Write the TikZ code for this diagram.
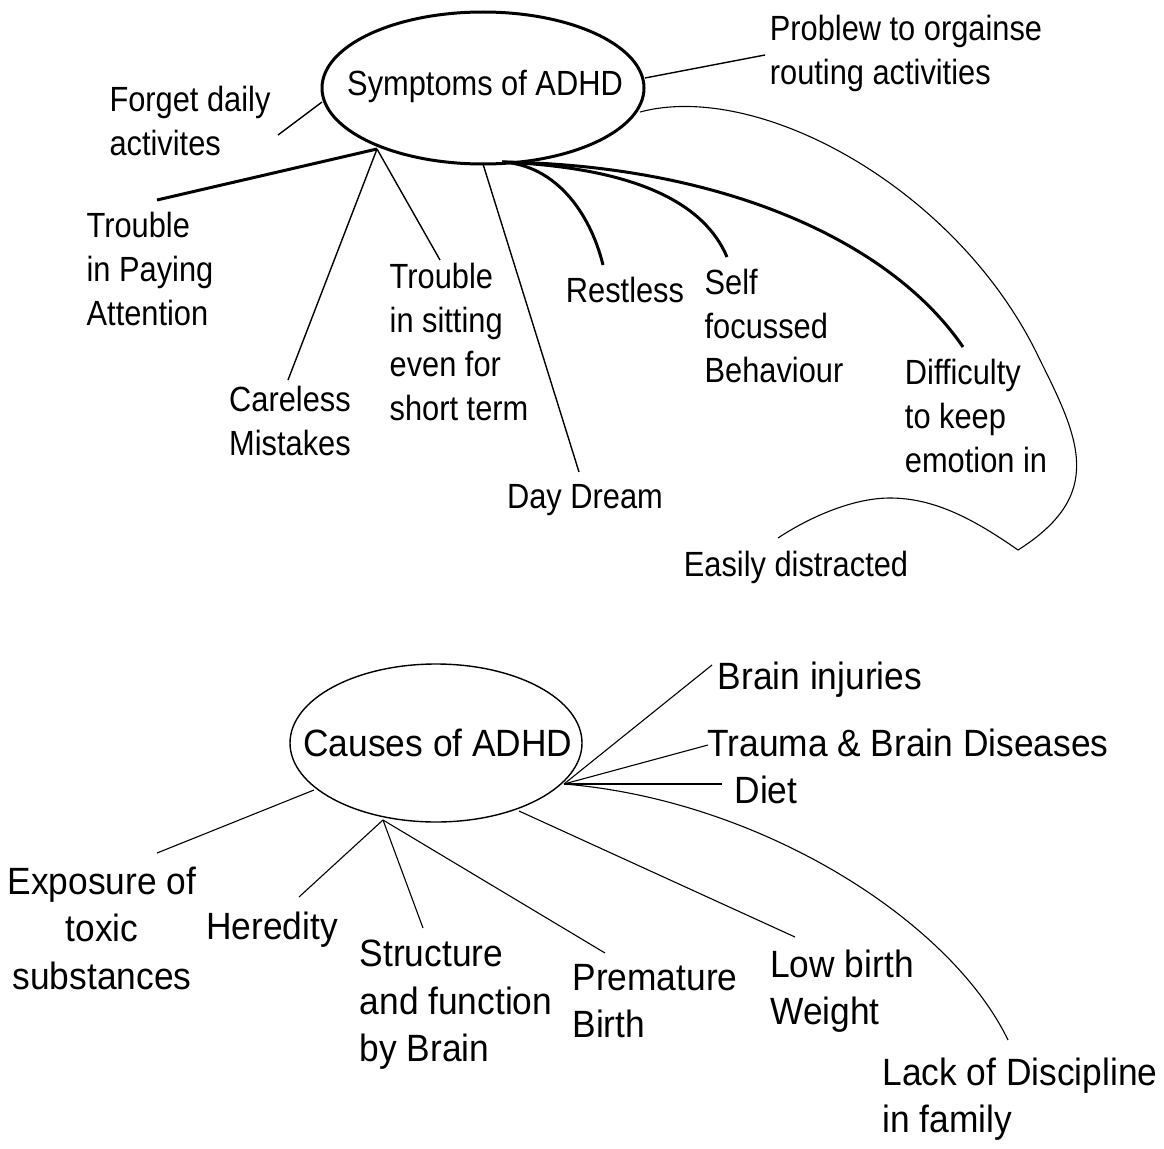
\documentclass[tikz,border=0pt]{standalone}
\usepackage{fontspec}
\setmainfont{Liberation Sans}[FakeStretch=0.88]
\newfontfamily\widefont{Liberation Sans}[FakeStretch=0.93]
\usetikzlibrary{shapes.geometric}

\begin{document}
\begin{tikzpicture}[x=1pt,y=-1pt,
    txt/.style={inner sep=0pt,align=left,font=\fontsize{35}{44}\selectfont},
    btxt/.style={inner sep=0pt,align=left,font=\widefont\fontsize{38}{47.5}\selectfont},
    hub/.style={ellipse,draw,inner sep=0pt},
    heavy/.style={line width=3pt},
    light/.style={line width=1.4pt},
    faint/.style={line width=1.1pt}]
  \useasboundingbox (0,0) rectangle (1164,1148);

  % symptoms
  \node[hub,heavy,minimum width=322,minimum height=152] (sym) at (483,88) {};
  \node[txt] (symT) at (485,86) {Symptoms of ADHD};
  \node[txt] (forget) at (190,121) {Forget daily\\activites};
  \node[txt] (prob) at (906,53) {Problew to orgainse\\routing activities};
  \node[txt] (pay) at (150,269) {Trouble\\in Paying\\Attention};
  \node[txt] (care) at (290,421) {Careless\\Mistakes};
  \node[txt] (sit) at (459,342) {Trouble\\in sitting\\even for\\short term};
  \node[txt] (day) at (585,500) {Day Dream};
  \node[txt] (rest) at (625,290) {Restless};
  \node[txt] (self) at (774,326) {Self\\focussed\\Behaviour};
  \node[txt] (diff) at (976,416) {Difficulty\\to keep\\emotion in};
  \node[txt] (easy) at (796,567) {Easily distracted};

  \coordinate (symA) at (377,149);
  \coordinate (symB) at (502,162);
  \coordinate (symC) at (483,164);
  \coordinate (symL) at (322,102);
  \coordinate (symR) at (645,78);
  \coordinate (symE) at (640,112);
  \coordinate (tForget) at (278,135);
  \coordinate (tProb) at (765,55);
  \coordinate (tPay) at (157,200);
  \coordinate (tCare) at (288,380);
  \coordinate (tSit) at (440,260);
  \coordinate (tDay) at (579,472);
  \coordinate (tRest) at (603,265);
  \coordinate (tSelf) at (727,257);
  \coordinate (tDiff) at (963,347);
  \coordinate (tEasy) at (778,538);
  \coordinate (cusp) at (1018,550);

  \draw[heavy] (symA) -- (tPay);
  \draw[light] (symA) -- (tCare);
  \draw[light] (symA) -- (tSit);
  \draw[light] (symC) -- (tDay);
  \draw[light] (symL) -- (tForget);
  \draw[light] (symR) -- (tProb);
  \draw[heavy] (symB) .. controls (555,165) and (590,212) .. (tRest);
  \draw[heavy] (symB) .. controls (640,168) and (705,205) .. (tSelf);
  \draw[heavy] (symB) .. controls (720,165) and (890,240) .. (tDiff);
  \draw[faint] (symE) .. controls (760,80) and (960,190) .. (1040,360)
    .. controls (1080,440) and (1105,495) .. (cusp)
    .. controls (975,520) and (935,498) .. (890,498)
    .. controls (850,498) and (805,520) .. (tEasy);

  % causes
  \node[hub,light,minimum width=292,minimum height=158] (cau) at (436,743) {};
  \node[btxt] (cauT) at (438,743) {Causes of ADHD};
  \node[btxt] (inj) at (820,680) {Brain injuries};
  \node[btxt] (tra) at (908,743) {Trauma \& Brain Diseases};
  \node[btxt] (diet) at (766,790) {Diet};
  \node[btxt] (lack) at (1020,1099) {Lack of Discipline\\in family};
  \node[btxt] (low) at (842,991) {Low birth\\Weight};
  \node[btxt] (pre) at (655,1001) {Premature\\Birth};
  \node[btxt] (str) at (456,1005) {Structure\\and function\\by Brain};
  \node[btxt] (her) at (272,930) {Heredity};
  \node[btxt,align=center] (exp) at (102,928) {Exposure of\\toxic\\substances};

  \coordinate (cauR) at (564,784);
  \coordinate (cauB) at (383,820);
  \coordinate (cauL) at (314,790);
  \coordinate (cauD) at (519,811);
  \coordinate (tInj) at (712,665);
  \coordinate (tTra) at (708,745);
  \coordinate (tDiet) at (722,784);
  \coordinate (tLack) at (1008,1040);
  \coordinate (tLow) at (795,937);
  \coordinate (tPre) at (605,953);
  \coordinate (tStr) at (423,928);
  \coordinate (tHer) at (299,897);
  \coordinate (tExp) at (157,853);

  \draw[faint] (cauR) -- (tInj);
  \draw[faint] (cauR) -- (tTra);
  \draw[faint] (cauR) -- (tDiet);
  \draw[faint] (cauR) .. controls (760,800) and (950,920) .. (tLack);
  \draw[faint] (cauD) -- (tLow);
  \draw[faint] (cauB) -- (tPre);
  \draw[faint] (cauB) -- (tStr);
  \draw[faint] (cauB) -- (tHer);
  \draw[faint] (cauL) -- (tExp);
\end{tikzpicture}
\end{document}
